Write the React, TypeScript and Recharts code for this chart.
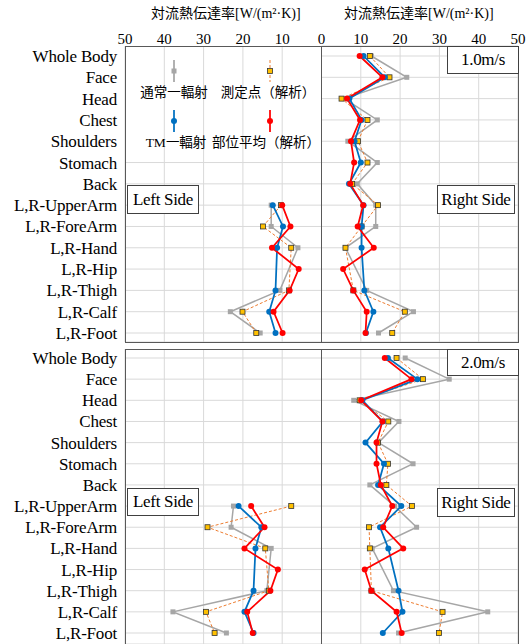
import React from 'react';
import { LineChart, Line, XAxis, YAxis, CartesianGrid, ReferenceLine } from 'recharts';

const categories = [
  'Whole Body', 'Face', 'Head', 'Chest', 'Shoulders', 'Stomach', 'Back',
  'L,R-UpperArm', 'L,R-ForeArm', 'L,R-Hand', 'L,R-Hip', 'L,R-Thigh', 'L,R-Calf', 'L,R-Foot',
];
const xTicks = [-50, -40, -30, -20, -10, 0, 10, 20, 30, 40, 50];
const _ = null;

// 1.0 m/s, right side
const gray1R = [12.7, 21.7, 5.8, 14.2, 6.7, 14.2, 9.1, 13.8, 13.8, 6.1, _, 11.5, 23.4, 14.5];
const orange1R = [12.3, 17.3, 5.1, 11.7, 9.3, 11.7, 7.8, 14.4, 10.2, 6.1, _, 8.1, 21.2, 18.0];
const blue1R = [10.7, 16.1, 7.1, 10.2, 8.4, 10.0, 7.0, 10.7, 10.2, 10.2, _, 10.9, 13.2, 11.3];
const red1R = [9.7, 15.5, 6.5, 9.8, 7.5, 8.3, 7.3, 10.6, 9.2, 13.3, 5.5, 8.1, 11.5, 11.2];
// 1.0 m/s, left side
const gray1L = [_, _, _, _, _, _, _, 12.8, 12.8, 6.0, _, 10.6, 23.2, 15.6];
const orange1L = [_, _, _, _, _, _, _, 10.3, 14.9, 7.7, _, 8.3, 20.1, 16.6];
const blue1L = [_, _, _, _, _, _, _, 12.4, 9.8, 11.3, _, 11.7, 13.3, 11.7];
const red1L = [_, _, _, _, _, _, _, 10.0, 7.9, 12.6, 5.8, 8.1, 12.2, 9.9];

// 2.0 m/s, right side
const gray2R = [21.3, 32.5, 8.2, 19.7, 14.5, 23.3, 12.3, 18.6, 24.2, 12.9, _, 18.3, 42.3, 19.6];
const orange2R = [19.1, 25.8, 9.7, 17.0, 14.4, 16.9, 16.5, 23.0, 12.1, 12.3, _, 12.7, 30.8, 29.9];
const blue2R = [16.9, 24.4, 10.4, 15.6, 11.2, 15.9, 14.4, 20.3, 14.9, 17.0, _, 19.6, 20.6, 15.6];
const red2R = [16.1, 22.9, 10.1, 15.5, 14.0, 14.0, 15.1, 18.0, 15.7, 20.8, 11.0, 12.7, 19.1, 20.4];
// 2.0 m/s, left side
const gray2L = [_, _, _, _, _, _, _, 22.4, 23.0, 12.8, _, 13.9, 37.8, 24.2];
const orange2L = [_, _, _, _, _, _, _, 7.7, 29.0, 14.3, _, 13.4, 29.4, 27.2];
const blue2L = [_, _, _, _, _, _, _, 21.1, 15.3, 16.8, _, 17.3, 19.6, 17.3];
const red2L = [_, _, _, _, _, _, _, 17.9, 14.5, 19.6, 11.1, 13.0, 18.9, 17.5];

const neg = (v: number | null) => (v == null ? null : -v);

const makeRows = (g: any[], o: any[], b: any[], r: any[], gl: any[], ol: any[], bl: any[], rl: any[]) =>
  categories.map((name, i) => ({
    name,
    gR: g[i], oR: o[i], bR: b[i], rR: r[i],
    gL: neg(gl[i]), oL: neg(ol[i]), bL: neg(bl[i]), rL: neg(rl[i]),
  }));

const rows1 = makeRows(gray1R, orange1R, blue1R, red1R, gray1L, orange1L, blue1L, red1L);
const rows2 = makeRows(gray2R, orange2R, blue2R, red2R, gray2L, orange2L, blue2L, red2L);

const GRAY = '#a6a6a6';
const ORANGE = '#ed7d31';
const GOLD = '#ffc000';
const BLUE = '#0070c0';
const RED = '#ff0000';
const FRAME = '#595959';
const GRID = '#d9d9d9';
const SERIF = '"Liberation Serif", "Times New Roman", "Noto Sans CJK JP", serif';

const squareDot = (fill: string, stroke?: string) => (p: any) => {
  if (p.cx == null || p.cy == null) return <g key={`s-${p.index}`} />;
  return (
    <rect key={`s-${p.index}`} x={p.cx - 2.5} y={p.cy - 2.5} width={5} height={5}
      fill={fill} stroke={stroke || 'none'} strokeWidth={0.8} />
  );
};
const roundDot = (fill: string) => (p: any) => {
  if (p.cx == null || p.cy == null) return <g key={`c-${p.index}`} />;
  return <circle key={`c-${p.index}`} cx={p.cx} cy={p.cy} r={3} fill={fill} />;
};

const seriesLines = () =>
  ['L', 'R'].map((s) => (
    <Line key={`g${s}`} dataKey={`g${s}`} stroke={GRAY} strokeWidth={1.5} dot={squareDot(GRAY)} isAnimationActive={false} />
  )).concat(
    ['L', 'R'].map((s) => (
      <Line key={`o${s}`} dataKey={`o${s}`} stroke={ORANGE} strokeWidth={1} strokeDasharray="3 2"
        dot={squareDot(GOLD, '#333')} isAnimationActive={false} />
    )),
    ['L', 'R'].map((s) => (
      <Line key={`b${s}`} dataKey={`b${s}`} stroke={BLUE} strokeWidth={1.75} dot={roundDot(BLUE)} isAnimationActive={false} />
    )),
    ['L', 'R'].map((s) => (
      <Line key={`r${s}`} dataKey={`r${s}`} stroke={RED} strokeWidth={1.75} dot={roundDot(RED)} isAnimationActive={false} />
    )),
  );

const box = (left: number, top: number, width: number, height: number, text: string) => (
  <div style={{
    position: 'absolute', left, top, width, height, boxSizing: 'border-box', background: '#fff',
    border: '1.5px solid #404040', fontSize: 17, color: '#000',
    display: 'flex', alignItems: 'center', justifyContent: 'center', letterSpacing: -0.3,
  }}>{text}</div>
);

const label = (cx: number, cy: number, text: string, size = 13.5) => (
  <div style={{
    position: 'absolute', left: cx - 70, top: cy - 10, width: 140, height: 20, lineHeight: '20px',
    textAlign: 'center', fontSize: size, color: '#000', whiteSpace: 'nowrap',
  }}>{text}</div>
);

const legendMark = (x: number, y: number, color: string, kind: 'sq' | 'gold' | 'dot', dashed = false) => (
  <g>
    <line x1={x} y1={y - 11} x2={x} y2={y + 11} stroke={kind === 'gold' ? ORANGE : color}
      strokeWidth={kind === 'gold' ? 1 : 1.75} strokeDasharray={dashed ? '3 2' : undefined} />
    {kind === 'dot' ? <circle cx={x} cy={y} r={3} fill={color} /> :
      <rect x={x - 2.5} y={y - 2.5} width={5} height={5} fill={kind === 'gold' ? GOLD : color}
        stroke={kind === 'gold' ? '#333' : 'none'} strokeWidth={0.8} />}
  </g>
);

export default function App() {
  const yAxisTick = { fontSize: 17, fill: '#000', letterSpacing: -0.2 };
  return (
    <div style={{ position: 'relative', width: 529, height: 644, overflow: 'hidden', background: '#fff', fontFamily: SERIF }}>
      <style>{'body{margin:0} svg text{font-family:"Liberation Serif","Times New Roman",serif}'}</style>

      {/* 1.0 m/s */}
      <div style={{ position: 'absolute', left: 0, top: 0 }}>
        <LineChart layout="vertical" width={529} height={350} data={rows1}
          margin={{ top: 0, right: 11, bottom: 8, left: 0 }}>
          <CartesianGrid stroke={GRID}
            horizontal={(p: any) => (
              <line key={`h-${p.index}`} x1={p.y1 < 157 ? (p.x1 + p.x2) / 2 : p.x1} y1={p.y1}
                x2={p.x2} y2={p.y2} stroke={GRID} />
            )} />
          <XAxis type="number" orientation="top" domain={[-50, 50]} ticks={xTicks} height={46}
            axisLine={false} tickLine={false} tickSize={0} tickMargin={2} interval={0}
            tickFormatter={(v: number) => String(Math.abs(v))}
            tick={{ fontSize: 15, fill: '#000' }} />
          <YAxis type="category" dataKey="name" width={125} axisLine={false} tickLine={false}
            interval={0} padding={{ top: 10, bottom: 9 }} tick={yAxisTick} />
          <ReferenceLine x={0} stroke={FRAME} strokeWidth={1} />
          {seriesLines()}
        </LineChart>
      </div>

      {/* 2.0 m/s */}
      <div style={{ position: 'absolute', left: 0, top: 349 }}>
        <LineChart layout="vertical" width={529} height={295} data={rows2}
          margin={{ top: 0, right: 11, bottom: 0, left: 0 }}>
          <CartesianGrid stroke={GRID} />
          <XAxis type="number" domain={[-50, 50]} ticks={xTicks} hide />
          <YAxis type="category" dataKey="name" width={125} axisLine={false} tickLine={false}
            interval={0} padding={{ top: 9, bottom: 11 }} tick={yAxisTick} />
          <ReferenceLine x={0} stroke={FRAME} strokeWidth={1} />
          {seriesLines()}
        </LineChart>
      </div>

      {/* panel frames */}
      <div style={{ position: 'absolute', left: 125, top: 46, width: 394, height: 297, boxSizing: 'border-box', border: `1px solid ${FRAME}` }} />
      <div style={{ position: 'absolute', left: 125, top: 349, width: 394, height: 310, boxSizing: 'border-box', border: `1px solid ${FRAME}` }} />

      {/* axis titles */}
      {label(221, 14, '対流熱伝達率[W/(m²·K)]', 14)}
      {label(414, 14, '対流熱伝達率[W/(m²·K)]', 14)}

      {/* legend */}
      <svg width={529} height={160} style={{ position: 'absolute', left: 0, top: 0 }}>
        {legendMark(174, 71, GRAY, 'sq')}
        {legendMark(270, 71, ORANGE, 'gold', true)}
        {legendMark(174, 121, BLUE, 'dot')}
        {legendMark(270, 121, RED, 'dot')}
      </svg>
      {label(174, 93, '通常一輻射')}
      {label(268, 93, '測定点（解析）')}
      {label(176, 143, 'TM一輻射')}
      {label(266, 143, '部位平均（解析）')}

      {/* annotation boxes */}
      {box(447, 46, 72, 28, '1.0m/s')}
      {box(127, 185, 72, 29, 'Left Side')}
      {box(437, 185, 78, 29, 'Right Side')}
      {box(447, 349, 72, 27, '2.0m/s')}
      {box(127, 488, 72, 28, 'Left Side')}
      {box(437, 488, 78, 29, 'Right Side')}
    </div>
  );
}
